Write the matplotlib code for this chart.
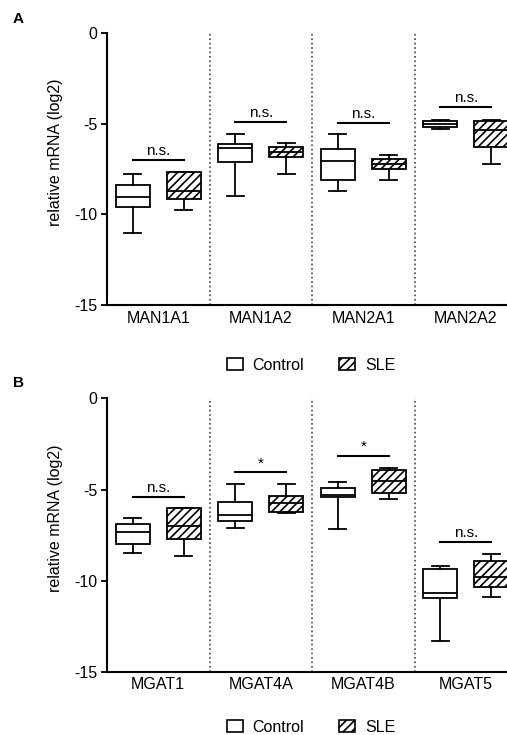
import matplotlib
matplotlib.use("Agg")
import matplotlib.pyplot as plt
from matplotlib.patches import Patch

plt.rcParams['font.family'] = ['Liberation Sans', 'DejaVu Sans']
plt.rcParams['hatch.linewidth'] = 1.2
plt.rcParams['hatch.color'] = 'black'
plt.rcParams['axes.unicode_minus'] = False

# box stats: whisker low, q1, median, q3, whisker high
genes_a = ['MAN1A1', 'MAN1A2', 'MAN2A1', 'MAN2A2']
ctrl_a = [[-11.05, -9.60, -9.06, -8.37, -7.76],
          [-8.99, -7.10, -6.36, -6.10, -5.57],
          [-8.70, -8.10, -7.04, -6.40, -5.59],
          [-5.28, -5.17, -5.04, -4.85, -4.80]]
sle_a = [[-9.76, -9.17, -8.70, -7.69, -7.65],
         [-7.76, -6.82, -6.55, -6.30, -6.05],
         [-8.13, -7.50, -7.23, -6.93, -6.73],
         [-7.21, -6.29, -5.35, -4.85, -4.78]]
sig_y_a = [-7.02, -4.91, -4.96, -4.06]
sig_txt_a = ['n.s.', 'n.s.', 'n.s.', 'n.s.']

genes_b = ['MGAT1', 'MGAT4A', 'MGAT4B', 'MGAT5']
ctrl_b = [[-8.47, -7.98, -7.32, -6.92, -6.57],
          [-7.14, -6.72, -6.42, -5.71, -4.72],
          [-7.19, -5.42, -5.31, -4.92, -4.58],
          [-13.32, -10.98, -10.67, -9.39, -9.22]]
sle_b = [[-8.66, -7.74, -7.01, -6.04, -6.00],
         [-6.27, -6.26, -5.76, -5.33, -4.70],
         [-5.51, -5.18, -4.52, -3.93, -3.81],
         [-10.89, -10.34, -9.79, -8.91, -8.56]]
sig_y_b = [-5.42, -4.06, -3.15, -7.90]
sig_txt_b = ['n.s.', '*', '*', 'n.s.']


def to_stats(rows):
    return [dict(whislo=r[0], q1=r[1], med=r[2], q3=r[3], whishi=r[4], fliers=[])
            for r in rows]


def draw_panel(ax, genes, ctrl, sle, sig_y, sig_txt):
    n = len(genes)
    lw = 1.3
    common = dict(widths=0.33, patch_artist=True, showfliers=False,
                  medianprops=dict(color='black', lw=lw),
                  whiskerprops=dict(color='black', lw=lw),
                  capprops=dict(color='black', lw=lw))
    pos_c = [i + 0.25 for i in range(n)]
    pos_s = [i + 0.75 for i in range(n)]
    ax.bxp(to_stats(ctrl), positions=pos_c,
           boxprops=dict(facecolor='white', edgecolor='black', lw=lw), **common)
    ax.bxp(to_stats(sle), positions=pos_s,
           boxprops=dict(facecolor='white', edgecolor='black', lw=lw, hatch='////'),
           **common)
    for i in range(1, n):
        ax.axvline(i, color='#444444', ls=':', lw=1.2)
    for i in range(n):
        ax.plot([pos_c[i], pos_s[i]], [sig_y[i], sig_y[i]], color='black', lw=1.5,
                clip_on=False)
        ax.annotate(sig_txt[i], (i + 0.5, sig_y[i]), xytext=(0, 1.5),
                    textcoords='offset points', ha='center', va='bottom', fontsize=11)
    ax.set_xlim(0, n)
    ax.set_ylim(-15, 0)
    ax.set_yticks([0, -5, -10, -15])
    ax.set_xticks([i + 0.5 for i in range(n)])
    ax.set_xticklabels(genes, fontsize=11.5)
    ax.tick_params(axis='x', length=0, pad=4)
    ax.tick_params(axis='y', length=4, width=1.3, labelsize=11.5, pad=3)
    ax.set_ylabel('relative mRNA (log2)', fontsize=11.5)
    ax.yaxis.set_label_coords(-0.107, 0.56)
    for s in ['top', 'right']:
        ax.spines[s].set_visible(False)
    for s in ['left', 'bottom']:
        ax.spines[s].set_linewidth(1.5)


W, H = 507, 735
fig = plt.figure(figsize=(W / 100, H / 100), dpi=100)
ax_a = fig.add_axes([107 / W, 1 - 305 / H, 410 / W, 272 / H])
ax_b = fig.add_axes([107 / W, 1 - 671.7 / H, 410 / W, 273.3 / H])

draw_panel(ax_a, genes_a, ctrl_a, sle_a, sig_y_a, sig_txt_a)
draw_panel(ax_b, genes_b, ctrl_b, sle_b, sig_y_b, sig_txt_b)

fig.text(13 / W, 1 - 19 / H, 'A', fontsize=11, fontweight='bold', ha='left', va='center')
fig.text(13 / W, 1 - 383 / H, 'B', fontsize=11, fontweight='bold', ha='left', va='center')

handles = [Patch(facecolor='white', edgecolor='black', lw=1.2, label='Control'),
           Patch(facecolor='white', edgecolor='black', lw=1.2, hatch='////', label='SLE')]
for yc in [365, 727]:
    fig.legend(handles=handles, loc='center', bbox_to_anchor=(311 / W, 1 - yc / H),
               ncol=2, frameon=False, fontsize=11.5, handlelength=1.0, handleheight=0.8,
               handletextpad=0.6, columnspacing=2.2, borderpad=0, borderaxespad=0)

fig.savefig('out.png', dpi=100)
